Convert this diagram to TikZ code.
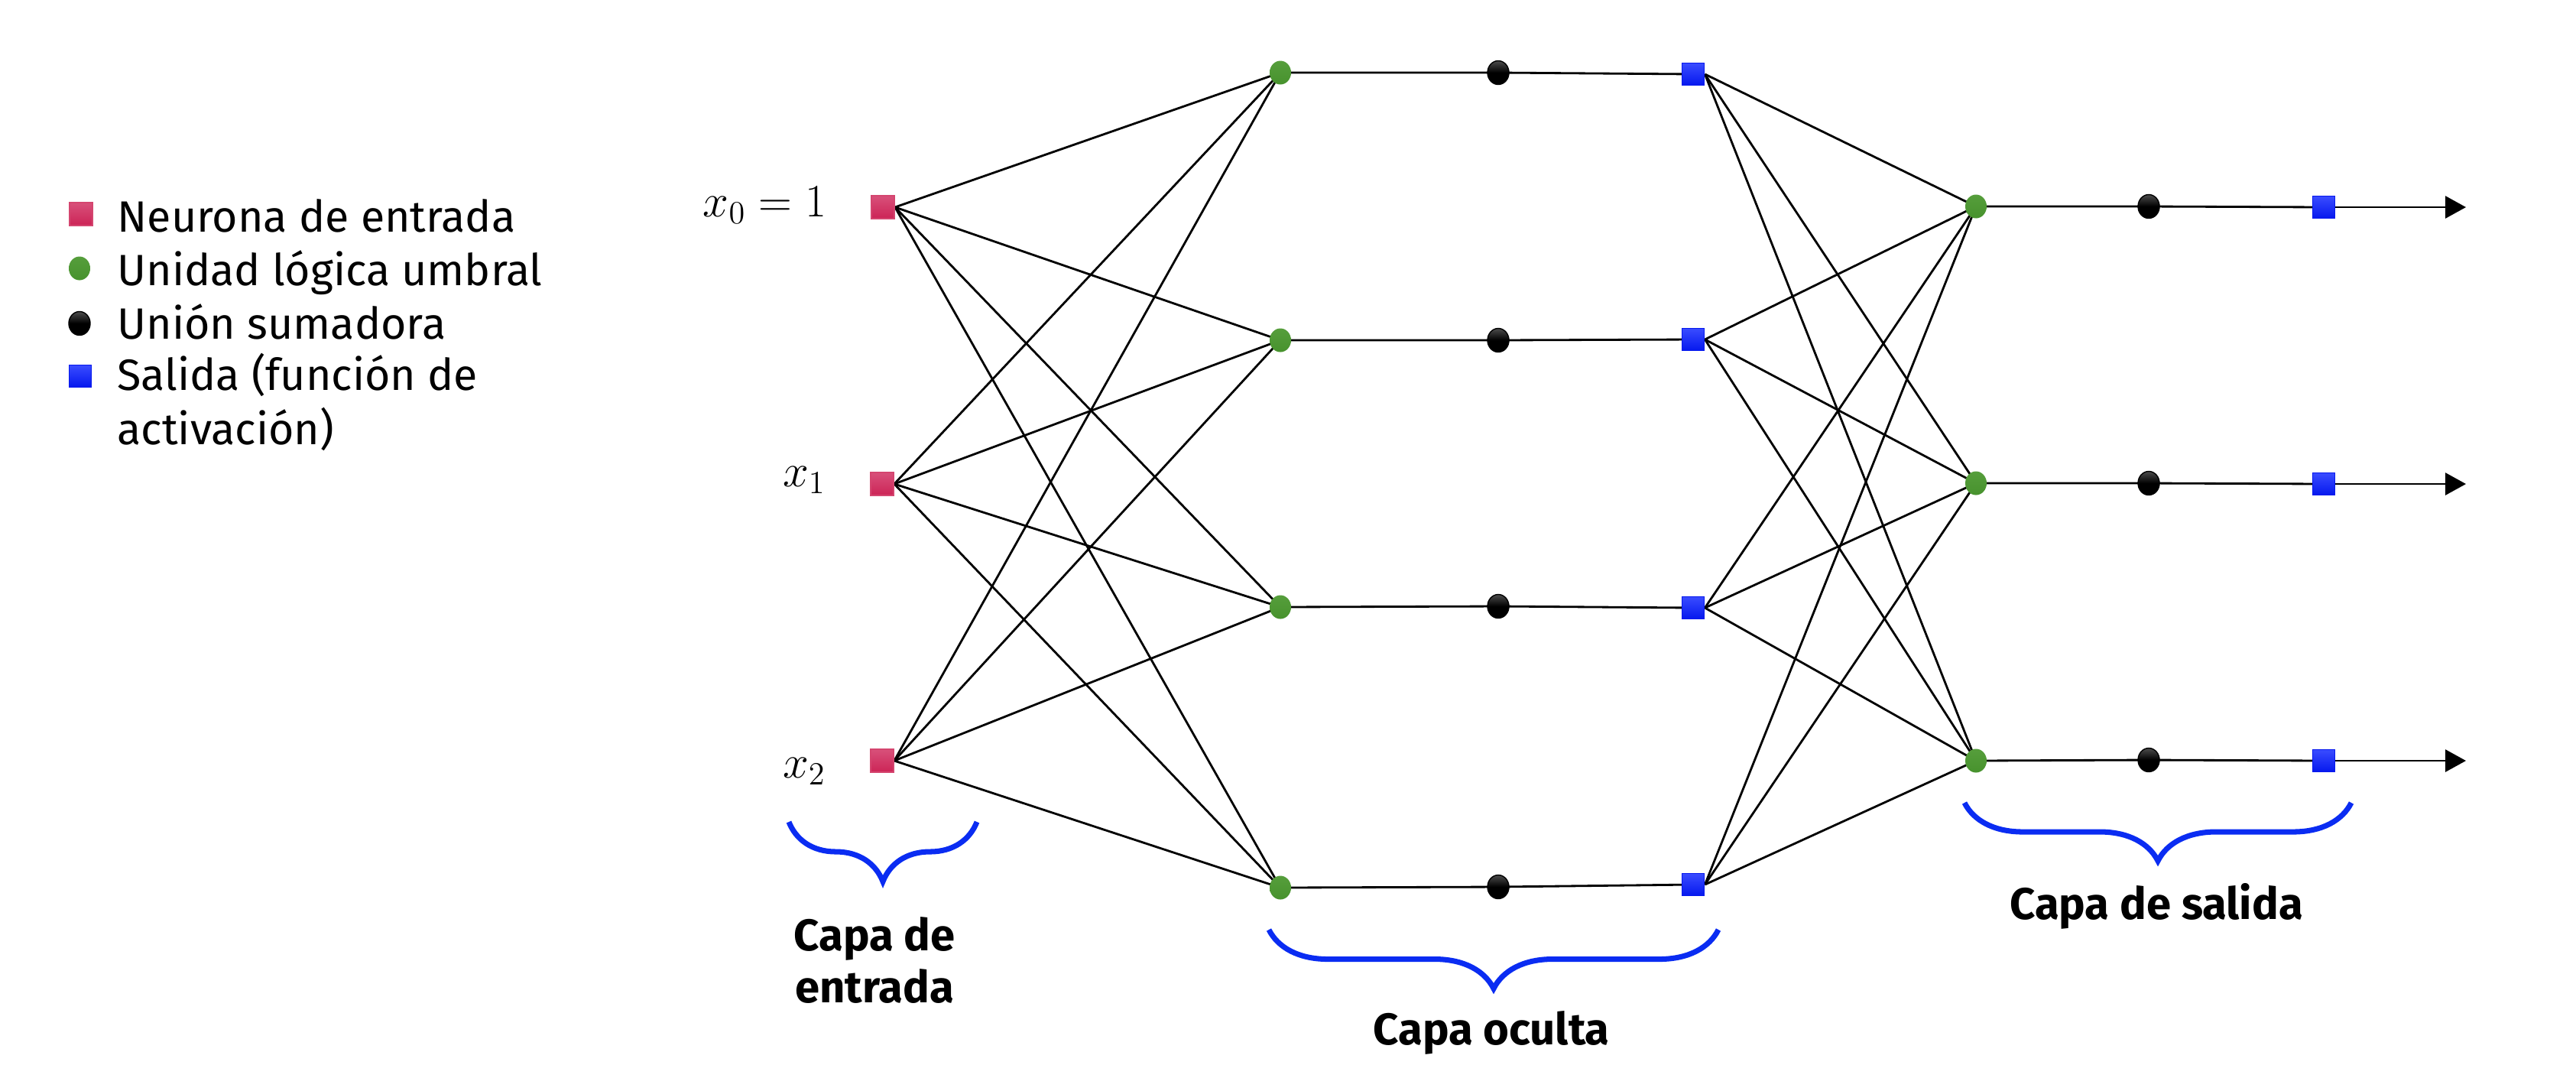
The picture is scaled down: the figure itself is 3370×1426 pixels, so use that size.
\documentclass[tikz,border=0pt]{standalone}
\usepackage{fontspec}
\setmainfont{Fira Sans}
\usetikzlibrary{arrows.meta,decorations.pathreplacing,shapes.geometric}
\pgfdeclarelayer{bg}
\pgfsetlayers{bg,main}
\definecolor{inred}{HTML}{CC2456}
\definecolor{inredtop}{HTML}{D8507A}
\definecolor{tlugreen}{HTML}{47922D}
\definecolor{tlugreentop}{HTML}{569E3C}
\definecolor{outblue}{HTML}{0518EE}
\definecolor{outbluetop}{HTML}{3A4CFF}
\definecolor{braceblue}{HTML}{0A2CF2}
\begin{document}
\begin{tikzpicture}[x=0.01cm,y=-0.01cm,
  inputsq/.style={rectangle,minimum size=0.30cm,inner sep=0pt,top color=inredtop,bottom color=inred,draw=inred!85!white,line width=0.5pt},
  tlu/.style={ellipse,minimum width=0.28cm,minimum height=0.31cm,inner sep=0pt,top color=tlugreentop,bottom color=tlugreen,draw=none},
  sumj/.style={ellipse,minimum width=0.28cm,minimum height=0.31cm,inner sep=0pt,top color=black!70,bottom color=black,middle color=black,draw=black,line width=0.4pt},
  outsq/.style={rectangle,minimum size=0.29cm,inner sep=0pt,top color=outbluetop,bottom color=outblue,draw=outblue,line width=0.5pt},
  conn/.style={line width=0.8pt,black},
  brc/.style={decorate,decoration={brace,mirror,amplitude=#1},draw=braceblue,line width=2pt},
  lbl/.style={font=\fontsize{16.5}{19}\selectfont\bfseries,anchor=base,inner sep=0pt},
  leg/.style={font=\fontsize{16.3}{19}\selectfont,anchor=base west,inner sep=0pt},
  mlbl/.style={font=\fontsize{17.6}{20}\selectfont,anchor=base east,inner sep=0pt}
]
\useasboundingbox (0,0) rectangle (3370,1426);

% legend
\node[inputsq] (legin) at (106,280) {};
\node[leg] (legint) at (153,303) {Neurona de entrada};
\node[tlu] (legtlu) at (104,351) {};
\node[leg] (legtlut) at (153,373) {Unidad lógica umbral};
\node[sumj] (legsum) at (104,423) {};
\node[leg] (legsumt) at (153,443) {Unión sumadora};
\node[outsq] (legout) at (105,492) {};
\node[leg] (legoutt) at (153,510) {Salida (función de};
\node[leg] (legoutt2) at (153,581) {activación)};

% input layer
\node[inputsq] (i0) at (1155,271) {};
\node[inputsq] (i1) at (1154,633) {};
\node[inputsq] (i2) at (1154,995) {};
\node[mlbl] (li0) at (1082,283) {$x_0=1$};
\node[mlbl] (li1) at (1081,636) {$x_1$};
\node[mlbl] (li2) at (1081,1017) {$x_2$};

% hidden layer
\node[tlu] (h1g) at (1675,95) {};
\node[sumj] (h1s) at (1960,95) {};
\node[outsq] (h1o) at (2215,97) {};
\node[tlu] (h2g) at (1675,445) {};
\node[sumj] (h2s) at (1960,445) {};
\node[outsq] (h2o) at (2215,444) {};
\node[tlu] (h3g) at (1675,794) {};
\node[sumj] (h3s) at (1960,793) {};
\node[outsq] (h3o) at (2215,795) {};
\node[tlu] (h4g) at (1675,1161) {};
\node[sumj] (h4s) at (1960,1160) {};
\node[outsq] (h4o) at (2215,1157) {};

% output layer
\node[tlu] (o1g) at (2585,270) {};
\node[sumj] (o1s) at (2811,270) {};
\node[outsq] (o1o) at (3040,271) {};
\coordinate (o1e) at (3226,271);
\node[tlu] (o2g) at (2585,632) {};
\node[sumj] (o2s) at (2811,632) {};
\node[outsq] (o2o) at (3040,633) {};
\coordinate (o2e) at (3226,633);
\node[tlu] (o3g) at (2585,995) {};
\node[sumj] (o3s) at (2811,994) {};
\node[outsq] (o3o) at (3040,995) {};
\coordinate (o3e) at (3226,995);

\begin{pgfonlayer}{bg}
  \foreach \i in {0,1,2}{
    \foreach \h in {1,2,3,4}{
      \draw[conn] (i\i.east) -- (h\h g.center);
    }
  }
  \foreach \h in {1,2,3,4}{
    \draw[conn] (h\h g.center) -- (h\h s.center) -- (h\h o.center);
    \foreach \o in {1,2,3}{
      \draw[conn] (h\h o.east) -- (o\o g.center);
    }
  }
  \foreach \o in {1,2,3}{
    \draw[conn] (o\o g.center) -- (o\o s.center) -- (o\o o.center);
  }
\end{pgfonlayer}
\foreach \o in {1,2,3}{
  \draw[conn,-{Triangle[length=0.27cm,width=0.29cm]}] (o\o o.east) -- (o\o e);
}

% braces
\coordinate (bia) at (1032,1075);
\coordinate (bib) at (1278,1075);
\coordinate (bha) at (1660,1216);
\coordinate (bhb) at (2248,1216);
\coordinate (boa) at (2570,1050);
\coordinate (bob) at (3076,1050);
\draw[brc=0.78cm] (bia) -- (bib);
\draw[brc=0.77cm] (bha) -- (bhb);
\draw[brc=0.76cm] (boa) -- (bob);

\node[lbl] (lin1) at (1144,1243) {Capa de};
\node[lbl] (lin2) at (1144,1311) {entrada};
\node[lbl] (lhid) at (1951,1366) {Capa oculta};
\node[lbl] (lout) at (2821,1202) {Capa de salida};
\end{tikzpicture}
\end{document}
